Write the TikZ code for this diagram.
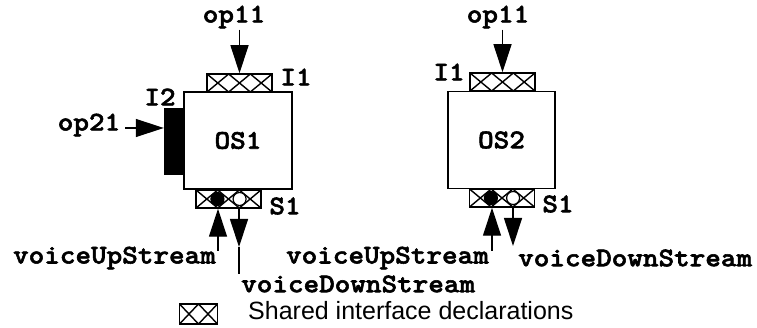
\documentclass[tikz,border=0pt]{standalone}
\usepackage{fontspec}
\newfontfamily\legendfont{Liberation Sans}
\newfontfamily\codefont[FakeStretch=1.1, FakeBold=2]{lmmonolt10-bold.otf}
\usetikzlibrary{positioning,calc,arrows.meta}
\newcommand{\opfont}{\fontsize{27}{30}\selectfont\codefont}

\begin{document}
\begin{tikzpicture}[x=1pt, y=-1pt,
    os/.style={rectangle, draw, line width=1.5pt, minimum width=108pt, minimum height=97pt, inner sep=0pt, font=\opfont},
    hatch/.style={rectangle, draw, line width=1.5pt, fill=white, inner sep=0pt, minimum width=65pt, minimum height=18pt,
        path picture={
            \foreach \k in {1,...,#1} {
                \draw[line width=1.4pt] ($(path picture bounding box.south west)!{(\k-1)/#1}!(path picture bounding box.south east)$)
                    -- ($(path picture bounding box.north west)!{\k/#1}!(path picture bounding box.north east)$);
                \draw[line width=1.4pt] ($(path picture bounding box.north west)!{(\k-1)/#1}!(path picture bounding box.north east)$)
                    -- ($(path picture bounding box.south west)!{\k/#1}!(path picture bounding box.south east)$);
            }
        }},
    solidbar/.style={rectangle, draw, fill=black, inner sep=0pt, minimum width=20pt, minimum height=66pt},
    dot/.style={circle, draw, line width=1.2pt, inner sep=0pt, minimum size=13pt},
    lbl/.style={font=\opfont, inner sep=1pt},
    flow/.style={-{Triangle[length=28pt, width=18pt]}, line width=1.2pt}
]
    \useasboundingbox (0,0) rectangle (757,328);

    % Object OS1
    \node[os] (os1) at (238,140.5) {OS1};
    \node[hatch=3] (i1a) at (239.5,83) {};
    \node[solidbar] (i2) at (174,141) {};
    \node[hatch=3] (s1a) at (228.5,199) {};
    \node[dot, fill=black] (sendA) at ($(s1a.west)!1/3!(s1a.east)$) {};
    \node[dot, fill=white] (recvA) at ($(s1a.west)!2/3!(s1a.east)$) {};

    \node[lbl] (op11a) at (234,17) {op11};
    \node[lbl] (i1alab) at (296,77) {I1};
    \node[lbl] (i2lab) at (160,97) {I2};
    \node[lbl] (op21) at (89,125) {op21};
    \node[lbl] (s1alab) at (285,206) {S1};
    \node[lbl, anchor=east] (vusA) at (217,258) {voiceUpStream};
    \node[lbl, anchor=west] (vdsA) at (240,284) {voiceDownStream};

    \draw[flow] (op11a.south -| i1a.north) -- (i1a.north);
    \draw[flow] ([shift={(4pt,-3pt)}]op21.east) -- ([yshift=-3pt]op21.east -| i2.west);
    \coordinate (upA) at (218,251);
    \coordinate (downA) at (239,247);
    \draw[flow] (upA) -- (upA |- s1a.south);
    \draw[flow] (downA |- s1a.south) -- (downA);
    \draw[line width=1.2pt] (downA) -- (downA |- vdsA.north);

    % Object OS2
    \node[os, minimum width=107pt] (os2) at (501.5,140) {OS2};
    \node[hatch=3] (i1b) at (502.5,82) {};
    \node[hatch=3] (s1b) at (502,198) {};
    \node[dot, fill=black] (sendB) at ($(s1b.west)!1/3!(s1b.east)$) {};
    \node[dot, fill=white] (recvB) at ($(s1b.west)!2/3!(s1b.east)$) {};

    \node[lbl] (op11b) at (498,17) {op11};
    \node[lbl] (i1blab) at (449,72) {I1};
    \node[lbl] (s1blab) at (558,204) {S1};
    \node[lbl, anchor=east] (vusB) at (490,258) {voiceUpStream};
    \node[lbl, anchor=west] (vdsB) at (517,258) {voiceDownStream};

    \draw[flow] (op11b.south -| i1b.north) -- (i1b.north);
    \coordinate (upB) at (492,251);
    \coordinate (downB) at (513,246);
    \draw[flow] (upB) -- (upB |- s1b.south);
    \draw[flow] (downB |- s1b.south) -- (downB);

    % Legend
    \node[hatch=2, minimum width=38pt, minimum height=20pt] (key) at (198.5,314) {};
    \node[anchor=west, inner sep=0pt, font={\fontsize{25}{28}\selectfont\legendfont}] (keytext) at (248,311) {Shared interface declarations};
\end{tikzpicture}
\end{document}
